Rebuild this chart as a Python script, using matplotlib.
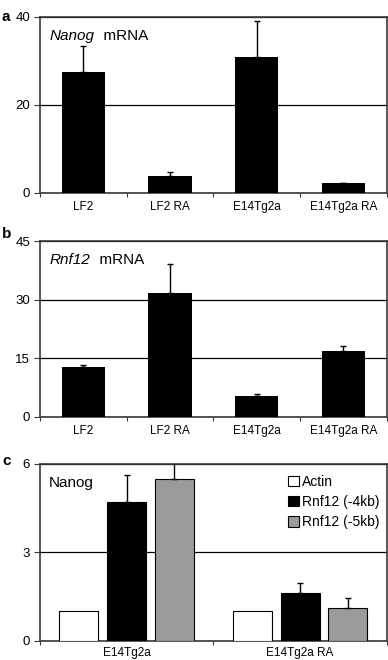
import numpy as np
import matplotlib.pyplot as plt

plt.rcParams['font.family'] = ['Liberation Sans', 'DejaVu Sans']

# panel a / b data
cells = ['LF2', 'LF2 RA', 'E14Tg2a', 'E14Tg2a RA']
nanog_mrna = [27.6, 3.8, 31.0, 2.2]
nanog_err = [5.9, 1.0, 8.0, 0.15]
rnf12_mrna = [12.8, 31.8, 5.4, 16.9]
rnf12_err = [0.5, 7.4, 0.3, 1.3]

# panel c data
chip_cells = ['E14Tg2a', 'E14Tg2a RA']
chip_labels = ['Actin', 'Rnf12 (-4kb)', 'Rnf12 (-5kb)']
chip_values = [[1.0, 1.0], [4.72, 1.61], [5.5, 1.11]]
chip_err = [[0.0, 0.0], [0.9, 0.35], [0.9, 0.36]]
chip_colors = ['white', 'black', '#9a9a9a']

SPINE = '#3a3a3a'


def style_axes(ax, ymax, step, ncat, xpad=6):
    ax.set_ylim(0, ymax)
    ax.set_yticks(np.arange(0, ymax + step / 2, step))
    ax.set_xlim(-0.5, ncat - 0.5)
    ax.set_xticks(np.arange(-0.5, ncat, 1.0))
    ax.set_xticklabels([])
    ax.set_xticks(np.arange(ncat), minor=True)
    ax.tick_params(axis='x', which='major', length=3, direction='out', color=SPINE)
    ax.tick_params(axis='x', which='minor', length=0, pad=xpad, labelsize=8.5)
    ax.tick_params(axis='y', length=4, direction='out', labelsize=9.5, pad=3, color=SPINE)
    ax.yaxis.grid(True, color='black', lw=0.9)
    ax.set_axisbelow(True)
    for sp in ax.spines.values():
        sp.set_color(SPINE)
        sp.set_linewidth(1.2)


fig = plt.figure(figsize=(3.88, 6.6), dpi=100)
ax_a = fig.add_axes([0.103, 0.7076, 0.894, 0.2667])
ax_b = fig.add_axes([0.103, 0.3686, 0.894, 0.2662])
ax_c = fig.add_axes([0.103, 0.0288, 0.894, 0.2682])

x = np.arange(len(cells))
for ax, vals, errs, ymax, step, gene in [
        (ax_a, nanog_mrna, nanog_err, 40, 20, 'Nanog'),
        (ax_b, rnf12_mrna, rnf12_err, 45, 15, 'Rnf12')]:
    style_axes(ax, ymax, step, len(cells))
    ax.bar(x, vals, width=0.5, color='black', zorder=3)
    ax.errorbar(x, vals, yerr=[np.zeros(len(vals)), errs], fmt='none',
                ecolor='black', elinewidth=1, capsize=2.5, capthick=1, zorder=3)
    ax.set_xticklabels(cells, minor=True)
    t = ax.text(0.029, 0.93, gene, style='italic', fontsize=11,
                transform=ax.transAxes, va='top', ha='left')
    ax.annotate('  mRNA', xy=(1, 0), xycoords=t, va='bottom', ha='left', fontsize=11)

# panel c
style_axes(ax_c, 6, 3, len(chip_cells), xpad=4.5)
xc = np.arange(len(chip_cells))
offsets = [-0.275, 0.0, 0.275]
for vals, errs, col, lab, off in zip(chip_values, chip_err, chip_colors, chip_labels, offsets):
    ax_c.bar(xc + off, vals, width=0.225, color=col, edgecolor='black', lw=0.8,
             label=lab, zorder=3)
    if max(errs) > 0:
        ax_c.errorbar(xc + off, vals, yerr=[np.zeros(len(vals)), errs], fmt='none',
                      ecolor='black', elinewidth=1, capsize=2.5, capthick=1, zorder=3)
ax_c.set_xticklabels(chip_cells, minor=True)
ax_c.text(0.024, 0.93, 'Nanog', fontsize=11, transform=ax_c.transAxes, va='top', ha='left')
ax_c.legend(loc='upper left', bbox_to_anchor=(0.7, 0.97), frameon=False, fontsize=10,
            handlelength=0.75, handleheight=0.75, handletextpad=0.25,
            labelspacing=0.45, borderaxespad=0)

for lab, yy in [('a', 0.985), ('b', 0.656), ('c', 0.312)]:
    fig.text(0.005, yy, lab, fontsize=11, fontweight='bold', va='top', ha='left')

fig.savefig('out.png', dpi=100)
